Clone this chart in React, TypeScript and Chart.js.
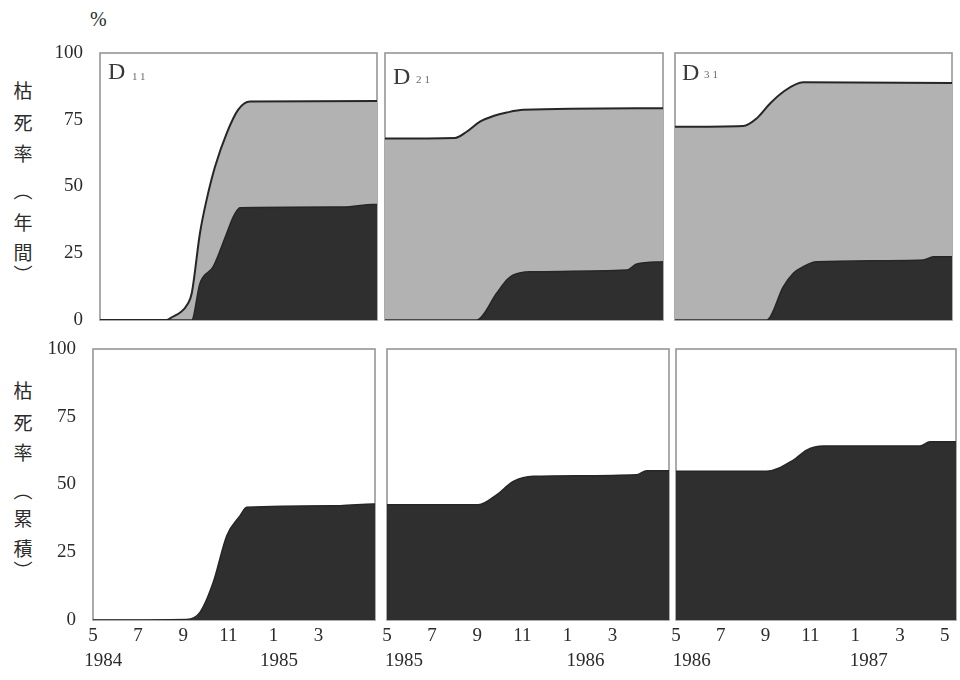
import React, { useEffect, useRef } from "react";
import { Chart, registerables } from "chart.js";

Chart.register(...registerables);

// ---------- data (x = months since May, y = %) ----------
const X_MAX = 12.5;
const yTickValues = [0, 25, 50, 75, 100];
const monthTickValues = [0, 2, 4, 6, 8, 10];
const monthTickValuesLast = [0, 2, 4, 6, 8, 10, 12];
const monthLabels = ["5", "7", "9", "11", "1", "3", "5"];

const years1 = ["1984", "1985"];
const years2 = ["1985", "1986"];
const years3 = ["1986", "1987"];
const yearPos1 = [0.45, 8.25];
const yearPos2 = [0.75, 8.8];
const yearPos3 = [0.7, 8.6];

// D11 annual (top left)
const d11TotalX = [0, 3.0, 3.16, 3.97, 4.14, 4.51, 4.81, 5.19, 5.72, 6.23, 6.77, 12.5];
const d11TotalY = [0, 0, 0.6, 6.2, 10, 32.5, 45, 57.4, 70, 78.7, 81.8, 82];
const d11DarkX = [0, 4.14, 4.51, 5.11, 5.72, 6.02, 6.32, 10.98, 12.33, 12.5];
const d11DarkY = [0, 0, 13.7, 20, 32.5, 38.7, 42, 42.3, 43.3, 43.3];

// D21 annual (top middle)
const d21TotalX = [0, 3.15, 3.67, 4.27, 4.87, 5.47, 6.22, 12.5];
const d21TotalY = [68.0, 68.2, 70.5, 74.3, 76.4, 77.7, 78.7, 79.3];
const d21DarkX = [0, 4.12, 5.02, 5.47, 5.77, 6.52, 10.87, 11.32, 12.5];
const d21DarkY = [0, 0, 10, 15, 16.9, 18.1, 18.7, 21, 21.8];

// D31 annual (top right)
const d31TotalX = [0, 3.08, 3.68, 4.29, 4.89, 5.79, 12.5];
const d31TotalY = [72.4, 72.7, 75.5, 81.1, 85.5, 89.0, 88.8];
const d31DarkX = [0, 4.14, 4.89, 5.34, 5.79, 6.39, 11.2, 11.66, 12.5];
const d31DarkY = [0, 0, 12.5, 17.5, 20, 21.8, 22.5, 23.7, 23.7];

// cumulative (bottom row)
const cum1X = [0, 4.15, 4.74, 5.33, 5.93, 6.52, 6.81, 10.95, 12.42, 12.5];
const cum1Y = [0, 0.2, 2.8, 13.9, 31.1, 38.5, 41.6, 42.2, 42.8, 42.8];
const cum2X = [0, 4.05, 4.86, 5.6, 6.49, 11.07, 11.51, 12.5];
const cum2Y = [42.5, 42.5, 46.2, 51.1, 53, 53.6, 55.1, 55.1];
const cum3X = [0, 4.05, 5.24, 5.83, 6.58, 10.89, 11.34, 12.5];
const cum3Y = [54.9, 54.9, 59, 62.7, 64.2, 64.2, 65.8, 65.8];

// ---------- styles ----------
const LIGHT = "#b2b2b2";
const DARK = "#2f2f2f";
const LINE = "#262626";
const FRAME = "#969696";
const TEXT = "#2b2b2b";
const SERIF = "'Liberation Serif', 'DejaVu Serif', serif";
const CJK = "'Noto Sans CJK JP', 'Noto Sans CJK SC', sans-serif";
const TICK_FONT = 19;

const pts = (xs: number[], ys: number[]) => xs.map((x, i) => ({ x, y: ys[i] }));

type Series = { xs: number[]; ys: number[]; kind: "light" | "dark" };
type Panel = {
  rect: { l: number; t: number; r: number; b: number };
  series: Series[];
  showY: boolean;
  showX: boolean;
  monthTicks?: number[];
  yearPos?: number[];
  years?: string[];
};

const PANELS: Panel[] = [
  {
    rect: { l: 100, t: 53, r: 377, b: 320 },
    series: [
      { xs: d11DarkX, ys: d11DarkY, kind: "dark" },
      { xs: d11TotalX, ys: d11TotalY, kind: "light" },
    ],
    showY: true,
    showX: false,
  },
  {
    rect: { l: 385, t: 53, r: 663, b: 320 },
    series: [
      { xs: d21DarkX, ys: d21DarkY, kind: "dark" },
      { xs: d21TotalX, ys: d21TotalY, kind: "light" },
    ],
    showY: false,
    showX: false,
  },
  {
    rect: { l: 675, t: 53, r: 952, b: 320 },
    series: [
      { xs: d31DarkX, ys: d31DarkY, kind: "dark" },
      { xs: d31TotalX, ys: d31TotalY, kind: "light" },
    ],
    showY: false,
    showX: false,
  },
  {
    rect: { l: 93, t: 349, r: 375, b: 620 },
    series: [{ xs: cum1X, ys: cum1Y, kind: "dark" }],
    showY: true,
    showX: true,
    monthTicks: monthTickValues,
    yearPos: yearPos1,
    years: years1,
  },
  {
    rect: { l: 387, t: 349, r: 669, b: 620 },
    series: [{ xs: cum2X, ys: cum2Y, kind: "dark" }],
    showY: false,
    showX: true,
    monthTicks: monthTickValues,
    yearPos: yearPos2,
    years: years2,
  },
  {
    rect: { l: 676, t: 349, r: 956, b: 620 },
    series: [{ xs: cum3X, ys: cum3Y, kind: "dark" }],
    showY: false,
    showX: true,
    monthTicks: monthTickValuesLast,
    yearPos: yearPos3,
    years: years3,
  },
];

const framePlugin = {
  id: "frame",
  beforeDatasetsDraw(chart: any) {
    const { ctx, chartArea } = chart;
    const { left, top, right, bottom } = chartArea;
    ctx.save();
    ctx.strokeStyle = FRAME;
    ctx.lineWidth = 1.6;
    ctx.strokeRect(left, top, right - left, bottom - top);
    ctx.restore();
  },
};

const PAD_L = 70;
const PAD_T = 34;
const PAD_R = 10;
const PAD_B = 72;
const Y_W = 60;
const X_H = 30;
const X2_H = 30;
const Y_TICK_PAD = 17;

function PanelChart({ p }: { p: Panel }) {
  const ref = useRef<HTMLCanvasElement | null>(null);
  const { l, t, r, b } = p.rect;
  const width = r - l + PAD_L + PAD_R;
  const height = b - t + PAD_T + PAD_B;

  useEffect(() => {
    if (!ref.current) return;
    const datasets = p.series.map((s) => ({
      data: pts(s.xs, s.ys),
      backgroundColor: s.kind === "light" ? LIGHT : DARK,
      borderColor: LINE,
      borderWidth: s.kind === "light" ? 2 : 1.5,
      fill: "origin",
      pointRadius: 0,
      cubicInterpolationMode: "monotone" as const,
    }));
    const chart = new Chart(ref.current, {
      type: "line",
      data: { datasets },
      options: {
        animation: false,
        responsive: false,
        events: [],
        layout: {
          padding: {
            left: PAD_L - (p.showY ? Y_W : 0),
            top: PAD_T,
            right: PAD_R,
            bottom: PAD_B - (p.showX ? X_H + X2_H : 0),
          },
        },
        plugins: { legend: { display: false }, tooltip: { enabled: false } },
        scales: {
          x: {
            type: "linear",
            min: 0,
            max: X_MAX,
            display: p.showX,
            grid: { display: false, drawTicks: false },
            border: { display: false },
            afterBuildTicks: (scale: any) => {
              scale.ticks = (p.monthTicks || monthTickValues).map((v) => ({ value: v }));
            },
            afterFit: (scale: any) => {
              scale.height = p.showX ? X_H : 0;
            },
            ticks: {
              autoSkip: false,
              maxRotation: 0,
              padding: 5,
              color: TEXT,
              font: { family: SERIF, size: TICK_FONT },
              callback: (_v: any, i: number) => monthLabels[i],
            },
          },
          x2: {
            type: "linear",
            position: "bottom",
            min: 0,
            max: X_MAX,
            display: p.showX,
            grid: { display: false, drawTicks: false },
            border: { display: false },
            afterBuildTicks: (scale: any) => {
              scale.ticks = (p.yearPos || []).map((v) => ({ value: v }));
            },
            afterFit: (scale: any) => {
              scale.height = p.showX ? X2_H : 0;
            },
            ticks: {
              autoSkip: false,
              maxRotation: 0,
              padding: 0,
              color: TEXT,
              font: { family: SERIF, size: TICK_FONT },
              callback: (_v: any, i: number) => (p.years || [])[i],
            },
          },
          y: {
            type: "linear",
            min: 0,
            max: 100,
            display: p.showY,
            grid: { display: false, drawTicks: false },
            border: { display: false },
            afterBuildTicks: (scale: any) => {
              scale.ticks = yTickValues.map((v) => ({ value: v }));
            },
            afterFit: (scale: any) => {
              scale.width = p.showY ? Y_W : 0;
            },
            ticks: {
              padding: Y_TICK_PAD,
              color: TEXT,
              font: { family: SERIF, size: TICK_FONT },
            },
          },
        },
      } as any,
      plugins: [framePlugin],
    });
    return () => chart.destroy();
  }, []);

  return (
    <canvas
      ref={ref}
      width={width}
      height={height}
      style={{ position: "absolute", left: l - PAD_L, top: t - PAD_T, width, height }}
    />
  );
}

const titleTop = ["枯", "死", "率", "︵", "年", "間", "︶"];
const titleBottom = ["枯", "死", "率", "︵", "累", "積", "︶"];
const titleTopY = [90, 122, 153, 190, 222, 252, 274];
const titleBottomY = [390, 422, 452, 490, 518, 548, 570];

const panelLabels = [
  { d: "D", sub: "11", x: 108, y: 59, sx: 132, sy: 70 },
  { d: "D", sub: "21", x: 393, y: 64, sx: 416, sy: 73 },
  { d: "D", sub: "31", x: 682, y: 60, sx: 704, sy: 68 },
];

export default function App() {
  return (
    <div
      style={{
        position: "fixed",
        left: 0,
        top: 0,
        width: 960,
        height: 680,
        background: "#ffffff",
        overflow: "hidden",
      }}
    >
      <div
        style={{
          position: "absolute",
          left: 90,
          top: 8,
          fontFamily: SERIF,
          fontSize: 20,
          color: TEXT,
        }}
      >
        %
      </div>
      {titleTop.map((c, i) => (
        <div
          key={"tt" + i}
          style={{
            position: "absolute",
            left: 12,
            top: titleTopY[i] - 11,
            width: 22,
            height: 22,
            lineHeight: "22px",
            textAlign: "center",
            fontFamily: CJK,
            fontSize: 19,
            color: TEXT,
          }}
        >
          {c}
        </div>
      ))}
      {titleBottom.map((c, i) => (
        <div
          key={"tb" + i}
          style={{
            position: "absolute",
            left: 12,
            top: titleBottomY[i] - 11,
            width: 22,
            height: 22,
            lineHeight: "22px",
            textAlign: "center",
            fontFamily: CJK,
            fontSize: 19,
            color: TEXT,
          }}
        >
          {c}
        </div>
      ))}
      {PANELS.map((p, i) => (
        <PanelChart key={i} p={p} />
      ))}
      {panelLabels.map((lb, i) => (
        <React.Fragment key={"lb" + i}>
          <div
            style={{
              position: "absolute",
              left: lb.x,
              top: lb.y,
              fontFamily: SERIF,
              fontSize: 24,
              lineHeight: "24px",
              color: "#3a3a3a",
            }}
          >
            {lb.d}
          </div>
          <div
            style={{
              position: "absolute",
              left: lb.sx,
              top: lb.sy,
              fontFamily: SERIF,
              fontSize: 11,
              lineHeight: "12px",
              letterSpacing: 3,
              color: "#6a6a6a",
            }}
          >
            {lb.sub}
          </div>
        </React.Fragment>
      ))}
    </div>
  );
}
